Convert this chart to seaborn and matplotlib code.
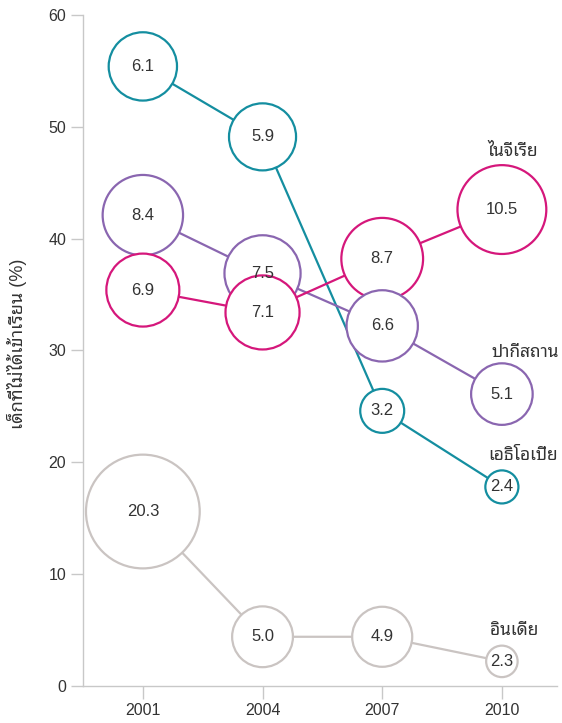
import numpy as np
import pandas as pd
import seaborn as sns
import matplotlib.pyplot as plt

# data
years = [2001, 2004, 2007, 2010]
countries = ['เอธิโอเปีย', 'ปากีสถาน', 'ไนจีเรีย', 'อินเดีย']
ethiopia_pct = [55.4, 49.1, 24.6, 17.8]
pakistan_pct = [42.1, 36.9, 32.2, 26.1]
nigeria_pct = [35.4, 33.4, 38.2, 42.6]
india_pct = [15.6, 4.4, 4.4, 2.2]
ethiopia_mil = [6.1, 5.9, 3.2, 2.4]
pakistan_mil = [8.4, 7.5, 6.6, 5.1]
nigeria_mil = [6.9, 7.1, 8.7, 10.5]
india_mil = [20.3, 5.0, 4.9, 2.3]

palette = {'เอธิโอเปีย': '#148ea0', 'ปากีสถาน': '#8a66b0',
           'ไนจีเรีย': '#d5177b', 'อินเดีย': '#cac4c2'}
text_color = '#333333'
axis_color = '#c8c8c8'

rows = []
for name, pct, mil in zip(countries,
                          [ethiopia_pct, pakistan_pct, nigeria_pct, india_pct],
                          [ethiopia_mil, pakistan_mil, nigeria_mil, india_mil]):
    for yr, p, m in zip(years, pct, mil):
        rows.append({'country': name, 'year': yr, 'pct': p, 'mil': m})
df = pd.DataFrame(rows)
# bubble area grows with log of the value (closest match to the reference)
df['bubble'] = np.log(df['mil']) ** 2

sns.set_style('white')
# latin digits from Liberation, thai from a looped thai face
plt.rcParams['font.family'] = ['Liberation Sans', 'Noto Sans Thai Looped', 'DejaVu Sans']

fig = plt.figure(figsize=(5.62, 7.23), dpi=100)
ax = fig.add_axes([0.1477, 0.0512, 0.8433, 0.9281])

# connecting lines first, bubbles on top
sns.lineplot(data=df, x='year', y='pct', hue='country', palette=palette,
             linewidth=1.6, legend=False, ax=ax, zorder=1, sort=False)

# bigger bubbles underneath smaller ones
bub = df.sort_values('mil', ascending=False)
k = 740
sns.scatterplot(data=bub, x='year', y='pct', hue='country', palette=palette,
                size='bubble', sizes=(k * bub['bubble'].min(), k * bub['bubble'].max()),
                size_norm=(bub['bubble'].min(), bub['bubble'].max()),
                facecolor='white', linewidth=1.6, legend=False, ax=ax, zorder=2)
# white fill, coloured ring
coll = ax.collections[-1]
coll.set_edgecolors(coll.get_facecolors())
coll.set_facecolor('white')

for _, r in df.iterrows():
    ax.text(r['year'], r['pct'], f"{r['mil']:.1f}", ha='center', va='center',
            fontsize=12, color=text_color, zorder=3)

# country names next to the last bubble
label_offsets = {'ไนจีเรีย': (8, 42), 'ปากีสถาน': (17, 30),
                 'เอธิโอเปีย': (15, 23), 'อินเดีย': (9, 22)}
for name in countries:
    last = df[(df['country'] == name) & (df['year'] == years[-1])].iloc[0]
    ax.annotate(name, (last['year'], last['pct']), xytext=label_offsets[name],
                textcoords='offset points', ha='center', va='center',
                fontsize=12.5, color=text_color)

ax.set_xlim(1999.5, 2011.38)
ax.set_ylim(0, 60)
ax.set_xticks(years)
ax.set_yticks(range(0, 61, 10))
ax.set_xlabel('')
ax.set_ylabel('เด็กที่ไม่ได้เข้าเรียน (%)', fontsize=13, color=text_color)
ax.yaxis.set_label_coords(-0.118, 0.51)

for side in ['top', 'right']:
    ax.spines[side].set_visible(False)
for side in ['left', 'bottom']:
    ax.spines[side].set_color(axis_color)
    ax.spines[side].set_linewidth(1)
ax.tick_params(axis='both', length=9, width=1, color=axis_color,
               labelsize=11.5, labelcolor=text_color, pad=3, left=True, bottom=True)
ax.grid(False)

fig.savefig('out.png', dpi=100)
